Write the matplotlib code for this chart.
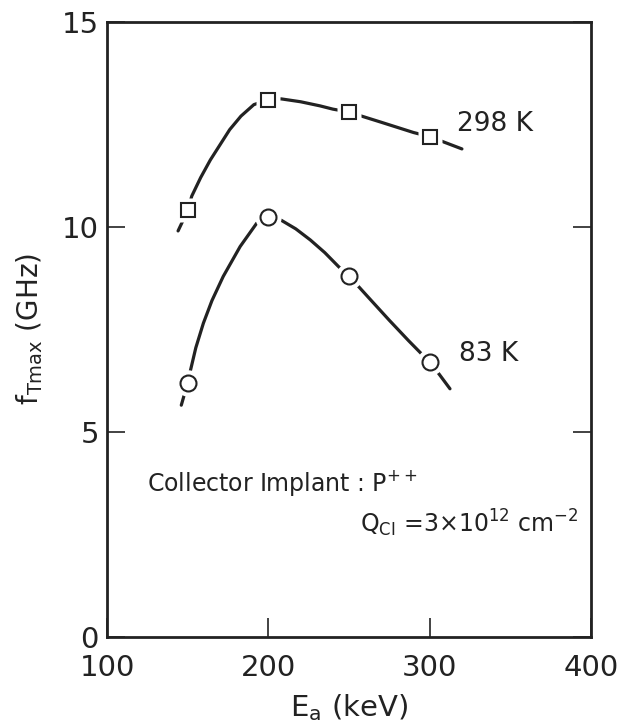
import matplotlib
matplotlib.use("Agg")
from matplotlib import pyplot as plt

# measured points
energy = [150, 200, 250, 300]
f_298k = [10.4, 13.1, 12.8, 12.2]
f_83k = [6.2, 10.25, 8.8, 6.7]

# hand-drawn trend curves
curve_298k_x = [144, 150, 152.5, 158, 164, 170, 176, 183, 191, 200, 208, 220, 232, 240, 250,
                257, 270, 290, 300, 310, 320]
curve_298k_y = [9.9, 10.4, 10.75, 11.2, 11.63, 12.0, 12.37, 12.7, 12.98, 13.1, 13.12, 13.05,
                12.95, 12.87, 12.8, 12.71, 12.55, 12.3, 12.2, 12.05, 11.9]
curve_83k_x = [146, 150, 151.7, 155, 159.7, 165, 172, 182.5, 192.8, 200, 208, 217, 226, 235,
               243.5, 250, 262, 275, 287, 300, 306, 312.6]
curve_83k_y = [5.65, 6.2, 6.5, 7.05, 7.65, 8.2, 8.79, 9.52, 10.09, 10.25, 10.16, 9.95, 9.68,
               9.37, 9.03, 8.8, 8.28, 7.72, 7.22, 6.7, 6.4, 6.05]

x_ticks = [100, 200, 300, 400]
y_ticks = [0, 5, 10, 15]

plt.rcParams['font.family'] = ['DejaVu Sans']
plt.rcParams['mathtext.fontset'] = 'dejavusans'

fig = plt.figure(figsize=(6.3, 7.27), dpi=100)
ax = fig.add_axes([0.170, 0.124, 0.768, 0.846])

ink = '#222222'
ax.plot(curve_298k_x, curve_298k_y, color=ink, lw=2.3, zorder=2, solid_capstyle='round')
ax.plot(curve_83k_x, curve_83k_y, color=ink, lw=2.3, zorder=2, solid_capstyle='round')

# white masks leave a gap between curve and symbol
ax.plot(energy, f_298k, 's', ms=17, color='white', mec='none', zorder=3)
ax.plot(energy, f_83k, 'o', ms=19, color='white', mec='none', zorder=3)
ax.plot(energy, f_298k, 's', ms=9.5, mfc='white', mec=ink, mew=1.5, zorder=4)
ax.plot(energy, f_83k, 'o', ms=11.5, mfc='white', mec=ink, mew=1.5, zorder=4)

ax.text(317, 12.5, '298 K', fontsize=19, color=ink, va='center', ha='left')
ax.text(318.5, 6.9, '83 K', fontsize=19, color=ink, va='center', ha='left')

ax.text(125, 3.55, r'Collector Implant : P$^{++}$', fontsize=17, color=ink, ha='left', va='baseline')
ax.text(257, 2.55, r'Q$_{\mathrm{CI}}$ =3×10$^{12}$ cm$^{-2}$', fontsize=17, color=ink,
        ha='left', va='baseline')

ax.set_xlim(100, 400)
ax.set_ylim(0, 15)
ax.set_xticks(x_ticks)
ax.set_yticks(y_ticks)
ax.tick_params(axis='x', direction='in', length=14, width=1.2, labelsize=21, pad=12,
               colors=ink, top=False)
ax.tick_params(axis='y', direction='in', length=13, width=1.2, labelsize=21, pad=6,
               colors=ink, right=True)
for s in ax.spines.values():
    s.set_linewidth(2)
    s.set_color(ink)

ax.set_xlabel(r'E$_{\mathrm{a}}$ (keV)', fontsize=21, color=ink, labelpad=8)
ax.set_ylabel(r'f$_{\mathrm{Tmax}}$ (GHz)', fontsize=20, color=ink, labelpad=12)

fig.savefig('out.png', dpi=100, facecolor='white')
plt.close(fig)
